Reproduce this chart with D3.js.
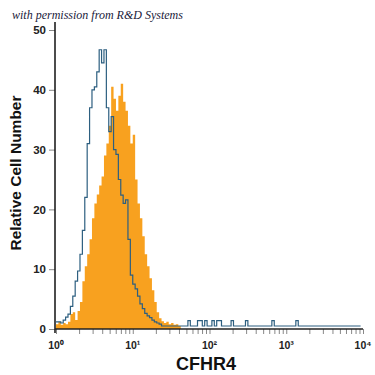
<!DOCTYPE html>
<html>
<head>
<meta charset="utf-8">
<script src="https://cdn.jsdelivr.net/npm/d3@7"></script>
<style>
  body { margin: 0; background: #fff; }
  svg { display: block; }
</style>
</head>
<body>
<div id="chart"></div>
<script>
// histogram channels: 32 bins per decade, 10^0 .. 10^4
const binsPerDecade = 32;

// isotype control (blue outline)
const controlCounts = [
  1.2, 1.2, 1.0, 1.5, 2.0, 2.5, 3.8, 5.5, 8.0, 9.7,
  12.5, 16.5, 22, 31, 37, 40, 40.5, 43, 46.7, 44.5,
  46.7, 37, 33, 35.5, 30, 29.2, 25, 22.4, 21, 21.6,
  15, 9, 7.5, 6.7, 5.5, 4.2, 3.4, 2.6, 2.2, 1.9,
  1.5, 1.2, 1.0, 0.8, 0.5, 0.5, 0.5, 0.5, 0.5, 0.5,
  0.5, 0.5, 0.5, 0.5, 0.5, 1.4, 0.5, 0.5, 0.5, 1.4,
  1.4, 0.5, 1.4, 0.5, 0.5, 1.4, 0.5, 1.4, 1.4, 0.5,
  0.5, 0.5, 0.5, 1.4, 0.5, 0.5, 0.5, 0.5, 0.5, 1.4,
  0.5, 0.5, 0.5, 0.5, 0.5, 0.5, 0.5, 0.5, 0.5, 0.5,
  1.4, 0.5, 0.5, 0.5, 0.5, 0.5, 0.5, 0.5, 0.5, 0.5,
  1.4, 0.5, 0.5, 0.5, 0.5, 0.5, 0.5, 0.5, 0.5, 0.5,
  0.5, 0.5, 0.5, 0.5, 0.5, 0.5, 0.5, 0.5, 0.5, 0.5,
  0.5, 0.5, 0.5, 0.5, 0.5, 0.5, 0.5
];

// CFHR4 stained (orange filled)
const stainedCounts = [
  0.8, 1.2, 0.7, 1.0, 0.8, 1.2, 2.5, 2.8, 1.5, 3.0,
  4.5, 8, 10.5, 12.5, 15, 18.5, 21, 22.5, 24, 25.5,
  29, 31, 34, 40.5, 38.5, 36.5, 39, 41, 38, 36.5,
  34, 31, 32.5, 25, 21, 18.5, 15.5, 12.5, 10.5, 8.5,
  6.5, 4.5, 2.8, 1.8, 1.3, 1.0, 1.2, 0.8, 1.0, 0.7,
  0.8, 0.5
];

const yTicks = [0, 10, 20, 30, 40, 50];
const xDecades = [0, 1, 2, 3, 4];
const superscripts = ['\u2070', '\u00b9', '\u00b2', '\u00b3', '\u2074'];

const width = 375;
const height = 375;

const svg = d3.select('#chart').append('svg')
  .attr('width', width)
  .attr('height', height);

const x = d3.scaleLog().domain([1, 1e4]).range([56, 363]);
const y = d3.scaleLinear().domain([0, 50]).range([329, 30]);

// bin edge -> value on the log axis
const edge = i => Math.pow(10, i / binsPerDecade);

function stepPoints(counts) {
  const pts = counts.map((c, i) => [x(edge(i)), y(c)]);
  pts.push([x(edge(counts.length)), y(counts[counts.length - 1])]);
  return pts;
}

// orange filled histogram
const area = d3.area()
  .x(d => d[0])
  .y0(y(0))
  .y1(d => d[1])
  .curve(d3.curveStepAfter);

svg.append('path')
  .datum(stepPoints(stainedCounts))
  .attr('fill', '#f8a11f')
  .attr('d', area);

// blue outline
const line = d3.line().curve(d3.curveStepAfter);
svg.append('path')
  .datum(stepPoints(controlCounts))
  .attr('fill', 'none')
  .attr('stroke', '#2d5f80')
  .attr('stroke-width', 1.2)
  .attr('d', line);

// y axis
const yAxis = d3.axisLeft(y).tickValues(yTicks).tickSize(6).tickPadding(3);
const gy = svg.append('g')
  .attr('transform', 'translate(55,0)')
  .call(yAxis);
gy.select('.domain').remove();
gy.selectAll('.tick line').attr('stroke', '#888');
gy.selectAll('.tick text')
  .attr('font-family', 'Liberation Sans, Arial, sans-serif')
  .attr('font-weight', 'bold')
  .attr('font-size', 11.5)
  .attr('fill', '#222');
svg.append('line')
  .attr('x1', 55).attr('x2', 55)
  .attr('y1', 22).attr('y2', 333)
  .attr('stroke', '#111').attr('stroke-width', 1.5);

// x axis
const minorTicks = [];
xDecades.forEach(d => {
  for (let k = 1; k <= 9; k++) {
    const v = k * Math.pow(10, d);
    if (v <= 1e4) minorTicks.push(v);
  }
});
const xAxis = d3.axisBottom(x).tickValues(minorTicks).tickSize(5).tickFormat('');
const gx = svg.append('g')
  .attr('transform', 'translate(0,329)')
  .call(xAxis);
gx.select('.domain').remove();
gx.selectAll('.tick line').attr('stroke', '#888');
svg.append('line')
  .attr('x1', 55).attr('x2', 363)
  .attr('y1', 329).attr('y2', 329)
  .attr('stroke', '#222').attr('stroke-width', 1.5);

const xl = svg.append('g').selectAll('text')
  .data(xDecades)
  .join('text')
  .attr('x', d => x(Math.pow(10, d)))
  .attr('y', 349)
  .attr('text-anchor', 'middle')
  .attr('font-family', 'Liberation Sans, Arial, sans-serif')
  .attr('font-weight', 'bold')
  .attr('font-size', 10.5)
  .attr('fill', '#222')
  .text(d => '10' + superscripts[d]);

// titles
svg.append('text')
  .attr('x', 206)
  .attr('y', 370)
  .attr('text-anchor', 'middle')
  .attr('font-family', 'Liberation Sans, Arial, sans-serif')
  .attr('font-weight', 'bold')
  .attr('font-size', 18)
  .attr('fill', '#111')
  .text('CFHR4');

svg.append('text')
  .attr('transform', 'translate(21,173) rotate(-90)')
  .attr('text-anchor', 'middle')
  .attr('font-family', 'Liberation Sans, Arial, sans-serif')
  .attr('font-weight', 'bold')
  .attr('font-size', 15.5)
  .attr('fill', '#111')
  .text('Relative Cell Number');

svg.append('text')
  .attr('x', 12)
  .attr('y', 19)
  .attr('font-family', 'Liberation Serif, serif')
  .attr('font-style', 'italic')
  .attr('font-size', 12)
  .attr('fill', '#1a1a3a')
  .text('with permission from R&D Systems');
</script>
</body>
</html>
